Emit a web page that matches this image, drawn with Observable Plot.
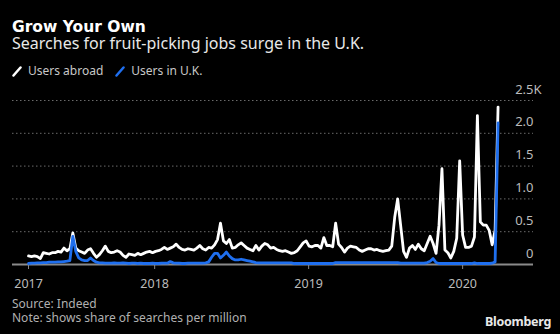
<!DOCTYPE html>
<html>
<head>
<meta charset="utf-8">
<script src="https://cdn.jsdelivr.net/npm/d3@7"></script>
<script src="https://cdn.jsdelivr.net/npm/@observablehq/plot@0.6"></script>
<style>
  html, body { margin: 0; padding: 0; background: #000; }
  body { width: 560px; height: 334px; overflow: hidden; position: relative; font-family: "Noto Sans", sans-serif; }
  .t { position: absolute; white-space: nowrap; line-height: 1; }
  #title { left: 12px; top: 19.8px; line-height: 15px; font-family: "DejaVu Sans", sans-serif; font-size: 15.5px; font-weight: bold; color: #fff; }
  #subtitle { left: 12px; top: 35px; font-size: 16px; color: #e8e8e8; }
  #legend { left: 12px; top: 65px; font-size: 12px; color: #c8c8c8; display: flex; align-items: center; }
  #legend svg { margin-right: 6px; }
  #legend .item { display: flex; align-items: center; margin-right: 12px; }
  #chart { position: absolute; left: 0; top: 72px; }
  #source { left: 12px; top: 297.5px; font-size: 12px; color: #b0b0b0; }
  #note { left: 12px; top: 311.5px; font-size: 12px; color: #b0b0b0; }
  #logo { right: 9px; top: 316px; font-size: 12.5px; font-weight: bold; color: #e8e8e8; letter-spacing: -0.3px; }
</style>
</head>
<body>
<div class="t" id="title">Grow Your Own</div>
<div class="t" id="subtitle">Searches for fruit-picking jobs surge in the U.K.</div>
<div class="t" id="legend"></div>
<div id="chart"></div>
<div class="t" id="source">Source: Indeed</div>
<div class="t" id="note">Note: shows share of searches per million</div>
<div class="t" id="logo">Bloomberg</div>
<script>
// Weekly observations starting at this date
const startDate = "2017-03-08";

// Users abroad (share of searches per million)
const abroad = [
  130,120,130,120,90,180,170,160,180,180,
  200,190,250,210,240,480,250,210,190,170,
  220,240,170,110,150,210,280,200,180,190,
  210,190,140,110,160,150,140,170,150,170,
  190,200,180,200,210,230,260,230,250,270,
  310,260,230,220,240,230,220,250,290,240,
  220,260,250,300,380,630,360,320,380,250,
  260,300,330,290,250,230,210,290,220,280,
  320,300,250,260,230,210,200,210,190,170,
  180,210,270,330,360,280,270,290,290,250,
  410,290,290,270,630,310,260,190,250,280,
  270,260,220,200,220,240,240,220,230,210,
  200,210,220,280,720,1000,600,200,110,250,
  290,230,310,240,210,320,430,320,170,600,
  1460,220,180,100,200,400,1580,450,260,260,
  280,420,2270,650,600,600,520,300,520,2400
];

// Users in U.K. (share of searches per million)
const uk = [
  15,20,20,25,25,30,30,35,35,35,
  40,40,45,50,60,430,200,100,70,60,
  60,100,60,35,25,25,20,20,20,25,
  20,20,25,20,15,20,20,15,20,15,
  15,15,20,15,15,20,20,20,45,25,
  20,20,15,15,20,20,20,20,20,20,
  25,40,110,170,170,100,140,190,130,90,
  70,70,80,70,60,50,40,30,25,25,
  25,25,25,25,25,25,25,25,25,25,
  15,15,15,15,15,15,15,15,15,15,
  15,15,15,15,30,30,30,30,30,30,
  30,30,30,30,30,30,30,30,30,30,
  30,30,30,30,30,30,20,20,20,20,
  20,20,20,20,20,30,50,90,30,15,
  15,15,15,15,15,15,15,15,15,15,
  15,25,15,15,15,15,15,20,40,2160
];

const seriesNames = ["Users abroad", "Users in U.K."];
const seriesColors = ["#ffffff", "#1f6fef"];

const xDomain = ["2017-01-29", "2020-06-17"];
const xTickDates = ["2017-03-08", "2018-01-01", "2019-01-01", "2020-01-01"];
const xTickLabels = ["2017", "2018", "2019", "2020"];

const yTicks = [0, 500, 1000, 1500, 2000, 2500];
const yTickLabels = ["0", "0.5", "1.0", "1.5", "2.0", "2.5"];
const yUnit = "K";

// legend
const legend = document.getElementById("legend");
seriesNames.forEach((name, i) => {
  const item = document.createElement("span");
  item.className = "item";
  item.innerHTML = `<svg width="10" height="11"><line x1="1.5" y1="9.5" x2="8.5" y2="1.5" stroke="${seriesColors[i]}" stroke-width="2.5" stroke-linecap="round"/></svg><span>${name}</span>`;
  legend.appendChild(item);
});

const start = new Date(startDate);
const rows = abroad.map((v, i) => ({ date: d3.utcDay.offset(start, 7 * i), abroad: v, uk: uk[i] }));

const chart = Plot.plot({
  width: 560,
  height: 220,
  marginLeft: 12,
  marginRight: 27,
  marginTop: 28,
  marginBottom: 28,
  style: { background: "transparent", color: "#bbb", fontFamily: "Noto Sans, sans-serif", fontSize: "12px", overflow: "visible" },
  x: { type: "utc", domain: xDomain.map(d => new Date(d)) },
  y: { domain: [0, 2500], axis: null },
  marks: [
    Plot.ruleY(yTicks.filter(d => d > 0), { stroke: "#6a6a6a", strokeWidth: 1, strokeDasharray: "1.5,2.5" }),
    Plot.axisX({
      ticks: xTickDates.map(d => new Date(d)),
      tickFormat: d => xTickLabels[xTickDates.map(s => +new Date(s)).indexOf(+d)],
      tickSize: 5,
      tickPadding: 10,
      stroke: "#888",
      fill: "#bbb",
      fontSize: 12.5
    }),
    Plot.ruleY([0], { stroke: "#8a8a8a", strokeWidth: 2 }),
    Plot.text(yTicks, { y: d => d, text: (d, i) => yTickLabels[i], frameAnchor: "right", textAnchor: "end", dy: -11, fill: "#bbb", fontSize: 13 }),
    Plot.text([2500], { y: d => d, text: () => yUnit, frameAnchor: "right", textAnchor: "start", dy: -11, fill: "#bbb", fontSize: 13 }),
    Plot.lineY(rows, { x: "date", y: "abroad", stroke: seriesColors[0], strokeWidth: 2.8, strokeLinejoin: "round" }),
    Plot.lineY(rows, { x: "date", y: "uk", stroke: seriesColors[1], strokeWidth: 2.8, strokeLinejoin: "round" })
  ]
});
document.getElementById("chart").appendChild(chart);
</script>
</body>
</html>
